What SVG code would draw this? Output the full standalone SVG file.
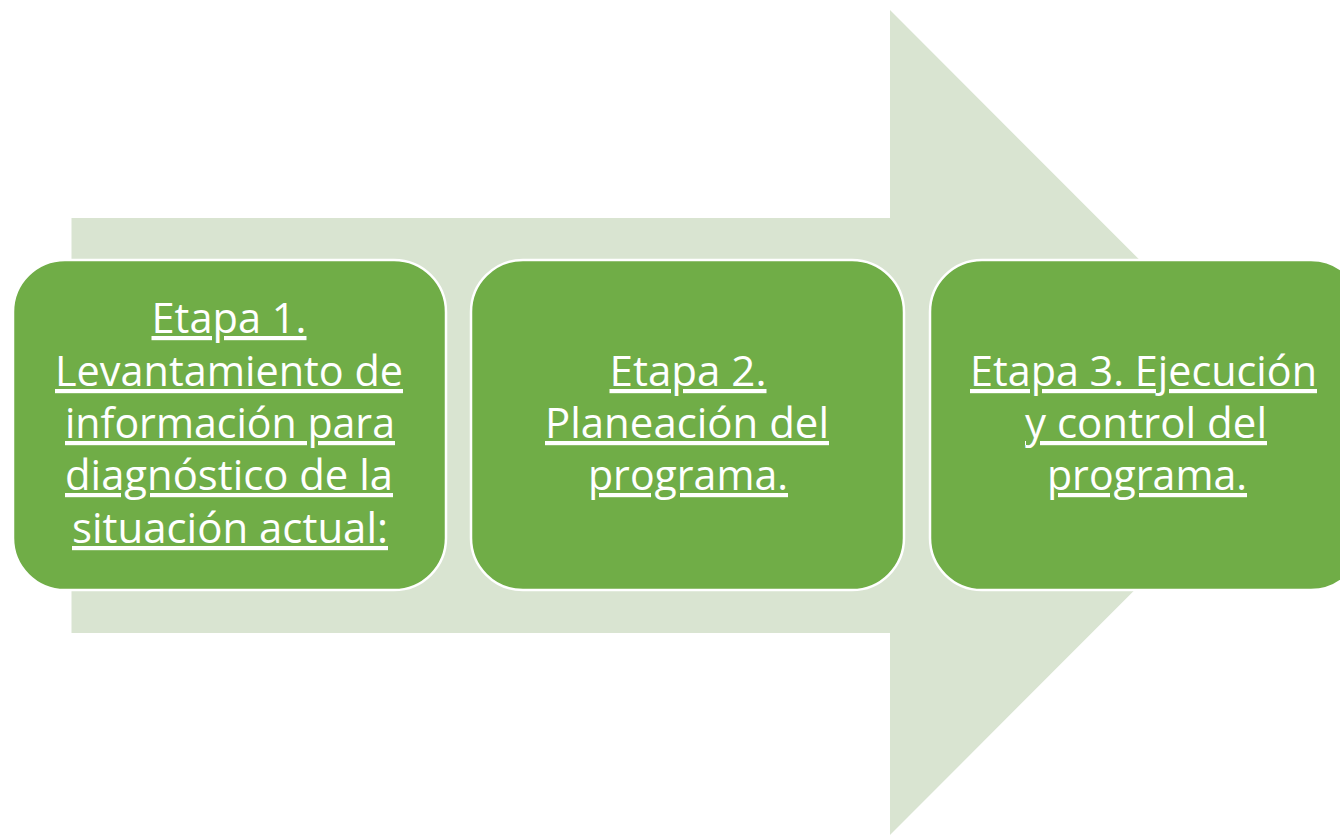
<svg xmlns="http://www.w3.org/2000/svg" width="1340" height="836" viewBox="0 0 1340 836">
  <style>
    .box { fill: #70AD47; stroke: #FFFFFF; stroke-width: 2.5; }
    .lbl { font-family: "Open Sans", "Liberation Sans", sans-serif; font-size: 42px; fill: #FFFFFF; text-anchor: middle; text-decoration: underline; }
  </style>
  <rect width="1340" height="836" fill="#FFFFFF"/>
  <g id="connectors">
    <polygon id="arrow" points="71.5,218 890,218 890,10 1302,422.5 890,835 890,633 71.5,633" fill="#D9E4D1"/>
  </g>
  <g id="node1">
    <rect class="box" x="13" y="260" width="433" height="330" rx="52" ry="52"/>
    <text class="lbl" x="229" y="333" textLength="155" lengthAdjust="spacingAndGlyphs">Etapa 1.</text>
    <text class="lbl" x="229" y="386" textLength="348" lengthAdjust="spacingAndGlyphs">Levantamiento de</text>
    <text class="lbl" x="230" y="438" textLength="330" lengthAdjust="spacingAndGlyphs">información para</text>
    <text class="lbl" x="229" y="490" textLength="328" lengthAdjust="spacingAndGlyphs">diagnóstico de la</text>
    <text class="lbl" x="230" y="543" textLength="316" lengthAdjust="spacingAndGlyphs">situación actual:</text>
  </g>
  <g id="node2">
    <rect class="box" x="471" y="260" width="433" height="330" rx="52" ry="52"/>
    <text class="lbl" x="688" y="386" textLength="157" lengthAdjust="spacingAndGlyphs">Etapa 2.</text>
    <text class="lbl" x="687" y="438" textLength="284" lengthAdjust="spacingAndGlyphs">Planeación del</text>
    <text class="lbl" x="688" y="490" textLength="200" lengthAdjust="spacingAndGlyphs">programa.</text>
  </g>
  <g id="node3">
    <rect class="box" x="930" y="260" width="433" height="330" rx="52" ry="52"/>
    <text class="lbl" x="1143.5" y="386" textLength="347" lengthAdjust="spacingAndGlyphs">Etapa 3. Ejecución</text>
    <text class="lbl" x="1146" y="438" textLength="242" lengthAdjust="spacingAndGlyphs">y control del</text>
    <text class="lbl" x="1147" y="490" textLength="200" lengthAdjust="spacingAndGlyphs">programa.</text>
  </g>
</svg>
